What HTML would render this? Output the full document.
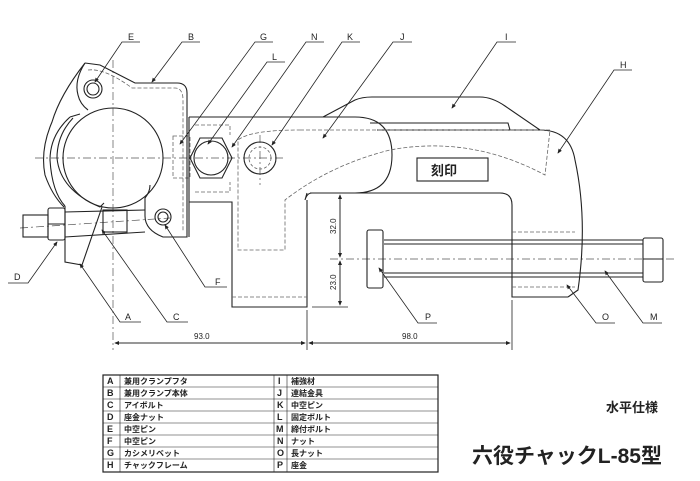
<!DOCTYPE html>
<html><head><meta charset="utf-8"><style>
body{margin:0;background:#fff;}
svg{display:block}
text{font-family:"Liberation Sans","Noto Sans CJK JP",sans-serif;fill:#222}
</style></head><body>
<svg width="700" height="481" viewBox="0 0 700 481" xmlns="http://www.w3.org/2000/svg">
<defs><marker id="a" markerWidth="6" markerHeight="6" refX="5" refY="3" orient="auto"><path d="M0,0.5 L6,3 L0,5.5z" fill="#222"/></marker></defs>
<g fill="none" stroke="#222" stroke-width="1.1">
<g stroke="#555" stroke-width="0.7" stroke-dasharray="8,3,2,3">
<line x1="35" y1="158" x2="285" y2="158"/>
<line x1="113" y1="60" x2="113" y2="350"/>
<line x1="260" y1="135" x2="260" y2="185"/>
<line x1="330" y1="259" x2="675" y2="259"/>
<line x1="20" y1="228" x2="170" y2="218"/>
</g>
<path d="M189,117 L355,117 Q392,117 392,155 Q392,193 355,193 L312,193 Q307,193 305,200 L307,193"/>
<path d="M189,117 L189,237"/>
<path d="M189,202 L232,202 L232,307 L307,307 L307,200"/>
<path d="M310,193 L500,193 Q512,193 512,205 L512,297 L568,297"/>
<path d="M377,130 L540,130 Q570,130 575,160 Q588,220 578,290 L568,297"/>
<path d="M323,117 L355,100 Q362,97 372,97 L480,97 Q492,97 505,106 L540,130"/>
<path d="M370,123 L508,123 L510,130"/>
<rect x="417" y="158" width="71" height="23"/>
<g stroke="#666" stroke-width="0.8" stroke-dasharray="4,2">
<path d="M300,130 L550,130 L545,175 Q470,135 390,150 Q330,165 285,200 L285,250 L238,250 L238,140 Q250,130 300,130"/>
<path d="M232,297 L307,297"/>
<path d="M512,232 L575,232 M512,240 L578,240 M512,244 L578,244 M512,273 L578,273 M512,277 L578,277 M512,287 L575,287"/>
<path d="M195,125 L230,125 L230,135 M195,192 L230,192 L230,182 M173,136 L190,136 L190,178 L173,178 Z"/>
<path d="M88,70 Q105,68 132,88 L175,88 Q183,88 183,100 L183,232"/>
</g>
<path d="M384,240 L643,240 M384,244 L643,244 M384,273 L643,273 M384,277 L643,277"/>
<rect x="643" y="238" width="20" height="44" rx="2"/>
<line x1="643" y1="259" x2="663" y2="259"/>
<rect x="367" y="230" width="16" height="58" rx="2"/>
<!-- clamp -->
<circle cx="113" cy="158" r="50"/>
<path d="M85,63 L100,65 L135,83 L177,83 Q187,83 187,93 L187,237 L163,237 Q145,230 145,216 L145,198 Q150,192 150,185"/>
<path d="M85,63 Q74,80 78,95 Q80,104 88,110"/>
<path d="M85,63 Q60,95 52,122 Q40,150 45,175 Q52,195 64,207"/>
<path d="M70,117 Q50,135 50,160 Q52,192 65,206"/>
<path d="M73,118 Q57,135 57,158 Q60,190 100,207 L104,203"/>
<path d="M70,117 L80,114"/>
<path d="M65,206 L65,262 L82,265 L102,207"/>
<circle cx="93" cy="89" r="9"/><circle cx="93" cy="89" r="6"/>
<circle cx="163" cy="217" r="8"/><circle cx="163" cy="217" r="5"/>
<path d="M65,212 L145,210 M65,237 L145,232"/>
<rect x="103" y="210" width="24" height="22"/>
<rect x="48" y="208" width="17" height="32" rx="2"/>
<line x1="48" y1="224" x2="65" y2="224"/>
<rect x="23" y="215" width="25" height="22"/>
<polygon points="190,158 200,138 222,138 232,158 222,178 200,178"/>
<circle cx="211" cy="158" r="17"/>
<circle cx="260" cy="158" r="16"/>
<circle cx="260" cy="158" r="11" stroke-dasharray="3,2" stroke="#666" stroke-width="0.8"/>
<g stroke-width="0.8">
<line x1="307" y1="310" x2="307" y2="350"/>
<line x1="512" y1="300" x2="512" y2="350"/>
<line x1="115" y1="343" x2="305" y2="343" marker-end="url(#a)"/>
<line x1="305" y1="343" x2="115" y2="343" marker-end="url(#a)"/>
<line x1="309" y1="343" x2="510" y2="343" marker-end="url(#a)"/>
<line x1="510" y1="343" x2="309" y2="343" marker-end="url(#a)"/>
<line x1="340" y1="195" x2="340" y2="257" marker-end="url(#a)"/>
<line x1="340" y1="257" x2="340" y2="195" marker-end="url(#a)"/>
<line x1="340" y1="261" x2="340" y2="305" marker-end="url(#a)"/>
<line x1="340" y1="305" x2="340" y2="261" marker-end="url(#a)"/>
<line x1="312" y1="307" x2="348" y2="307"/>
</g>
<g stroke-width="0.8">
<path d="M140,42 L122,42 L95,82" marker-end="url(#a)"/>
<path d="M200,42 L182,42 L152,82" marker-end="url(#a)"/>
<path d="M273,42 L255,42 L180,144" marker-end="url(#a)"/>
<path d="M285,62 L267,62 L208,144" marker-end="url(#a)"/>
<path d="M324,42 L306,42 L232,147" marker-end="url(#a)"/>
<path d="M360,42 L342,42 L272,145" marker-end="url(#a)"/>
<path d="M412,42 L393,42 L323,138" marker-end="url(#a)"/>
<path d="M516,42 L497,42 L452,108" marker-end="url(#a)"/>
<path d="M632,70 L614,70 L558,153" marker-end="url(#a)"/>
<path d="M8,283 L28,283 L57,242" marker-end="url(#a)"/>
<path d="M141,322 L120,322 L80,264" marker-end="url(#a)"/>
<path d="M188,322 L167,322 L102,230" marker-end="url(#a)"/>
<path d="M227,287 L205,287 L165,225" marker-end="url(#a)"/>
<path d="M437,323 L418,323 L379,268" marker-end="url(#a)"/>
<path d="M615,323 L596,323 L567,285" marker-end="url(#a)"/>
<path d="M662,323 L643,323 L605,271" marker-end="url(#a)"/>
</g>
<rect x="103" y="375" width="335" height="97" stroke-width="1.2"/>
<g stroke-width="0.6">
<line x1="120" y1="375" x2="120" y2="472"/><line x1="274" y1="375" x2="274" y2="472"/><line x1="287" y1="375" x2="287" y2="472"/>
<line x1="103" y1="387" x2="438" y2="387"/><line x1="103" y1="399" x2="438" y2="399"/><line x1="103" y1="411" x2="438" y2="411"/><line x1="103" y1="423" x2="438" y2="423"/><line x1="103" y1="435" x2="438" y2="435"/><line x1="103" y1="447" x2="438" y2="447"/><line x1="103" y1="459" x2="438" y2="459"/>
</g>
</g>
<g font-size="9">
<text x="128" y="40">E</text><text x="188" y="40">B</text><text x="260" y="40">G</text><text x="272" y="60">L</text><text x="311" y="40">N</text><text x="347" y="40">K</text><text x="400" y="40">J</text><text x="505" y="40">I</text><text x="620" y="68">H</text>
<text x="14" y="280">D</text><text x="125" y="320">A</text><text x="173" y="320">C</text><text x="215" y="285">F</text><text x="425" y="320">P</text><text x="602" y="320">O</text><text x="650" y="320">M</text>
<text x="194" y="339" font-size="8">93.0</text><text x="402" y="339" font-size="8">98.0</text>
<text font-size="8" transform="translate(336,234) rotate(-90)">32.0</text>
<text font-size="8" transform="translate(336,290) rotate(-90)">23.0</text>
</g>
<text x="431" y="175" font-size="13" font-weight="bold">刻印</text>
<g font-size="8" font-weight="bold">
<text x="107" y="384" font-size="9">A</text><text x="124" y="384">兼用クランプフタ</text><text x="278" y="384" font-size="9">I</text><text x="291" y="384">補強材</text>
<text x="107" y="396" font-size="9">B</text><text x="124" y="396">兼用クランプ本体</text><text x="277" y="396" font-size="9">J</text><text x="291" y="396">連結金具</text>
<text x="107" y="408" font-size="9">C</text><text x="124" y="408">アイボルト</text><text x="277" y="408" font-size="9">K</text><text x="291" y="408">中空ピン</text>
<text x="107" y="420" font-size="9">D</text><text x="124" y="420">座金ナット</text><text x="277" y="420" font-size="9">L</text><text x="291" y="420">固定ボルト</text>
<text x="107" y="432" font-size="9">E</text><text x="124" y="432">中空ピン</text><text x="276" y="432" font-size="9">M</text><text x="291" y="432">締付ボルト</text>
<text x="107" y="444" font-size="9">F</text><text x="124" y="444">中空ピン</text><text x="277" y="444" font-size="9">N</text><text x="291" y="444">ナット</text>
<text x="107" y="456" font-size="9">G</text><text x="124" y="456">カシメリベット</text><text x="277" y="456" font-size="9">O</text><text x="291" y="456">長ナット</text>
<text x="107" y="468" font-size="9">H</text><text x="124" y="468">チャックフレーム</text><text x="277" y="468" font-size="9">P</text><text x="291" y="468">座金</text>
</g>
<text x="606" y="412" font-size="13" font-weight="bold">水平仕様</text>
<text x="472" y="463" font-size="21" font-weight="bold">六役チャックL-85型</text>
</svg>
</body></html>
